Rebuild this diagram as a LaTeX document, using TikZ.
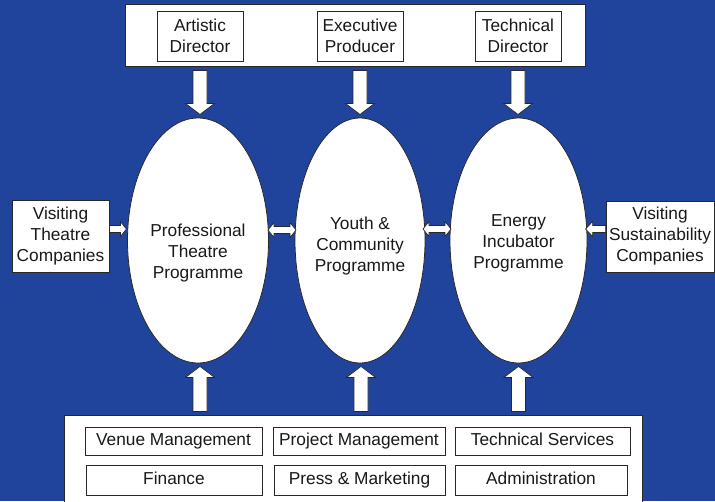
\documentclass[tikz,border=0pt]{standalone}
\usepackage{fontspec}
\setmainfont{Liberation Sans}
\usetikzlibrary{shapes.geometric}
\definecolor{bgblue}{RGB}{32,68,156}
\definecolor{edgegray}{RGB}{40,40,40}
\begin{document}
\begin{tikzpicture}[x=1pt,y=-1pt,
  txt/.style={font=\fontsize{17.3}{21}\selectfont, align=center, text=black!90, inner sep=0pt},
  box/.style={txt, draw=edgegray, fill=white, line width=0.8pt},
  one/.style={text height=12.5pt, text depth=3.5pt},
  panel/.style={draw=edgegray, fill=white, line width=0.9pt},
  ell/.style={ellipse, draw=edgegray, fill=white, line width=0.8pt, inner sep=0pt},
  arr/.style={draw=edgegray, fill=white, line width=0.7pt, line join=miter},
  downarrow/.pic={\draw[arr] (-7,0) -- (7,0) -- (7,33) -- (14.5,33) -- (0,44) -- (-14.5,33) -- (-7,33) -- cycle;},
  uparrow/.pic={\draw[arr] (0,0) -- (14.5,11) -- (7,11) -- (7,45) -- (-7,45) -- (-7,11) -- (-14.5,11) -- cycle;},
  rightarrow/.pic={\draw[arr] (0,-3.5) -- (11,-3.5) -- (11,-7.5) -- (17,0) -- (11,7.5) -- (11,3.5) -- (0,3.5) -- cycle;},
  leftarrow/.pic={\draw[arr] (0,-3.5) -- (-13,-3.5) -- (-13,-7.5) -- (-20,0) -- (-13,7.5) -- (-13,3.5) -- (0,3.5) -- cycle;},
  dblarrow/.pic={\draw[arr] (0,0) -- (6,-7.5) -- (6,-3.5) -- (22,-3.5) -- (22,-7.5) -- (28,0) -- (22,7.5) -- (22,3.5) -- (6,3.5) -- (6,7.5) -- cycle;}
]
\fill[bgblue] (0,0) rectangle (715,501);
\useasboundingbox (0,0) rectangle (715,501);

% top panel
\node[panel, minimum width=460, minimum height=62, inner sep=0pt] (top) at (355,35) {};
\node[box, minimum width=86, minimum height=50] (ad) at (200,36) {Artistic\\Director};
\node[box, minimum width=86, minimum height=50] (ep) at (360,36) {Executive\\Producer};
\node[box, minimum width=86, minimum height=50] (td) at (518,36) {Technical\\Director};

% ellipses
\node[ell, minimum width=141, minimum height=245] (e1) at (198,240.5) {};
\node[ell, minimum width=130, minimum height=245] (e2) at (360,240.5) {};
\node[ell, minimum width=137, minimum height=245] (e3) at (518.5,240.5) {};
\node[txt] (t1) at (198,253) {Professional\\Theatre\\Programme};
\node[txt] (t2) at (360,246) {Youth \&\\Community\\Programme};
\node[txt] (t3) at (518.5,243) {Energy\\Incubator\\Programme};

% side boxes
\node[box, minimum width=97, minimum height=72] (vt) at (60.5,236) {Visiting\\Theatre\\Companies};
\node[box, minimum width=108, minimum height=71] (vs) at (660,236.5) {Visiting\\Sustainability\\Companies};

% bottom panel
\node[panel, minimum width=578, minimum height=90, inner sep=0pt] (bot) at (353,460) {};
\node[box, one, minimum width=177, minimum height=28] (vm) at (173.5,441) {Venue Management};
\node[box, one, minimum width=172, minimum height=28] (pm) at (359,441) {Project Management};
\node[box, one, minimum width=175, minimum height=28] (ts) at (542.5,441) {Technical Services};
\node[box, one, minimum width=176, minimum height=30] (fi) at (174,480) {Finance};
\node[box, one, minimum width=171, minimum height=30] (pr) at (359.5,480) {Press \& Marketing};
\node[box, one, minimum width=172, minimum height=30] (ad2) at (541,480) {Administration};

% arrows from top panel down to ellipses
\coordinate (d1) at (ad.center |- top.south);
\coordinate (d2) at (ep.center |- top.south);
\coordinate (d3) at (td.center |- top.south);
\pic at ([yshift=-4pt]d1) {downarrow};
\pic at ([yshift=-4pt]d2) {downarrow};
\pic at ([yshift=-4pt]d3) {downarrow};

% arrows from bottom panel up to ellipses
\coordinate (u1) at (e1.center |- e1.south);
\coordinate (u2) at (e2.center |- e2.south);
\coordinate (u3) at (e3.center |- e3.south);
\pic at ([xshift=2pt,yshift=-3pt]u1) {uparrow};
\pic at ([xshift=1pt,yshift=-3pt]u2) {uparrow};
\pic at ([yshift=-3pt]u3) {uparrow};

% side arrows
\coordinate (s1) at (vt.east |- 0,229);
\pic at (s1) {rightarrow};
\coordinate (s2) at (vs.west |- 0,229);
\pic at (s2) {leftarrow};
\coordinate (m1) at (268,230);
\pic at (m1) {dblarrow};
\coordinate (m2) at (423,229);
\pic at (m2) {dblarrow};
\end{tikzpicture}
\end{document}
